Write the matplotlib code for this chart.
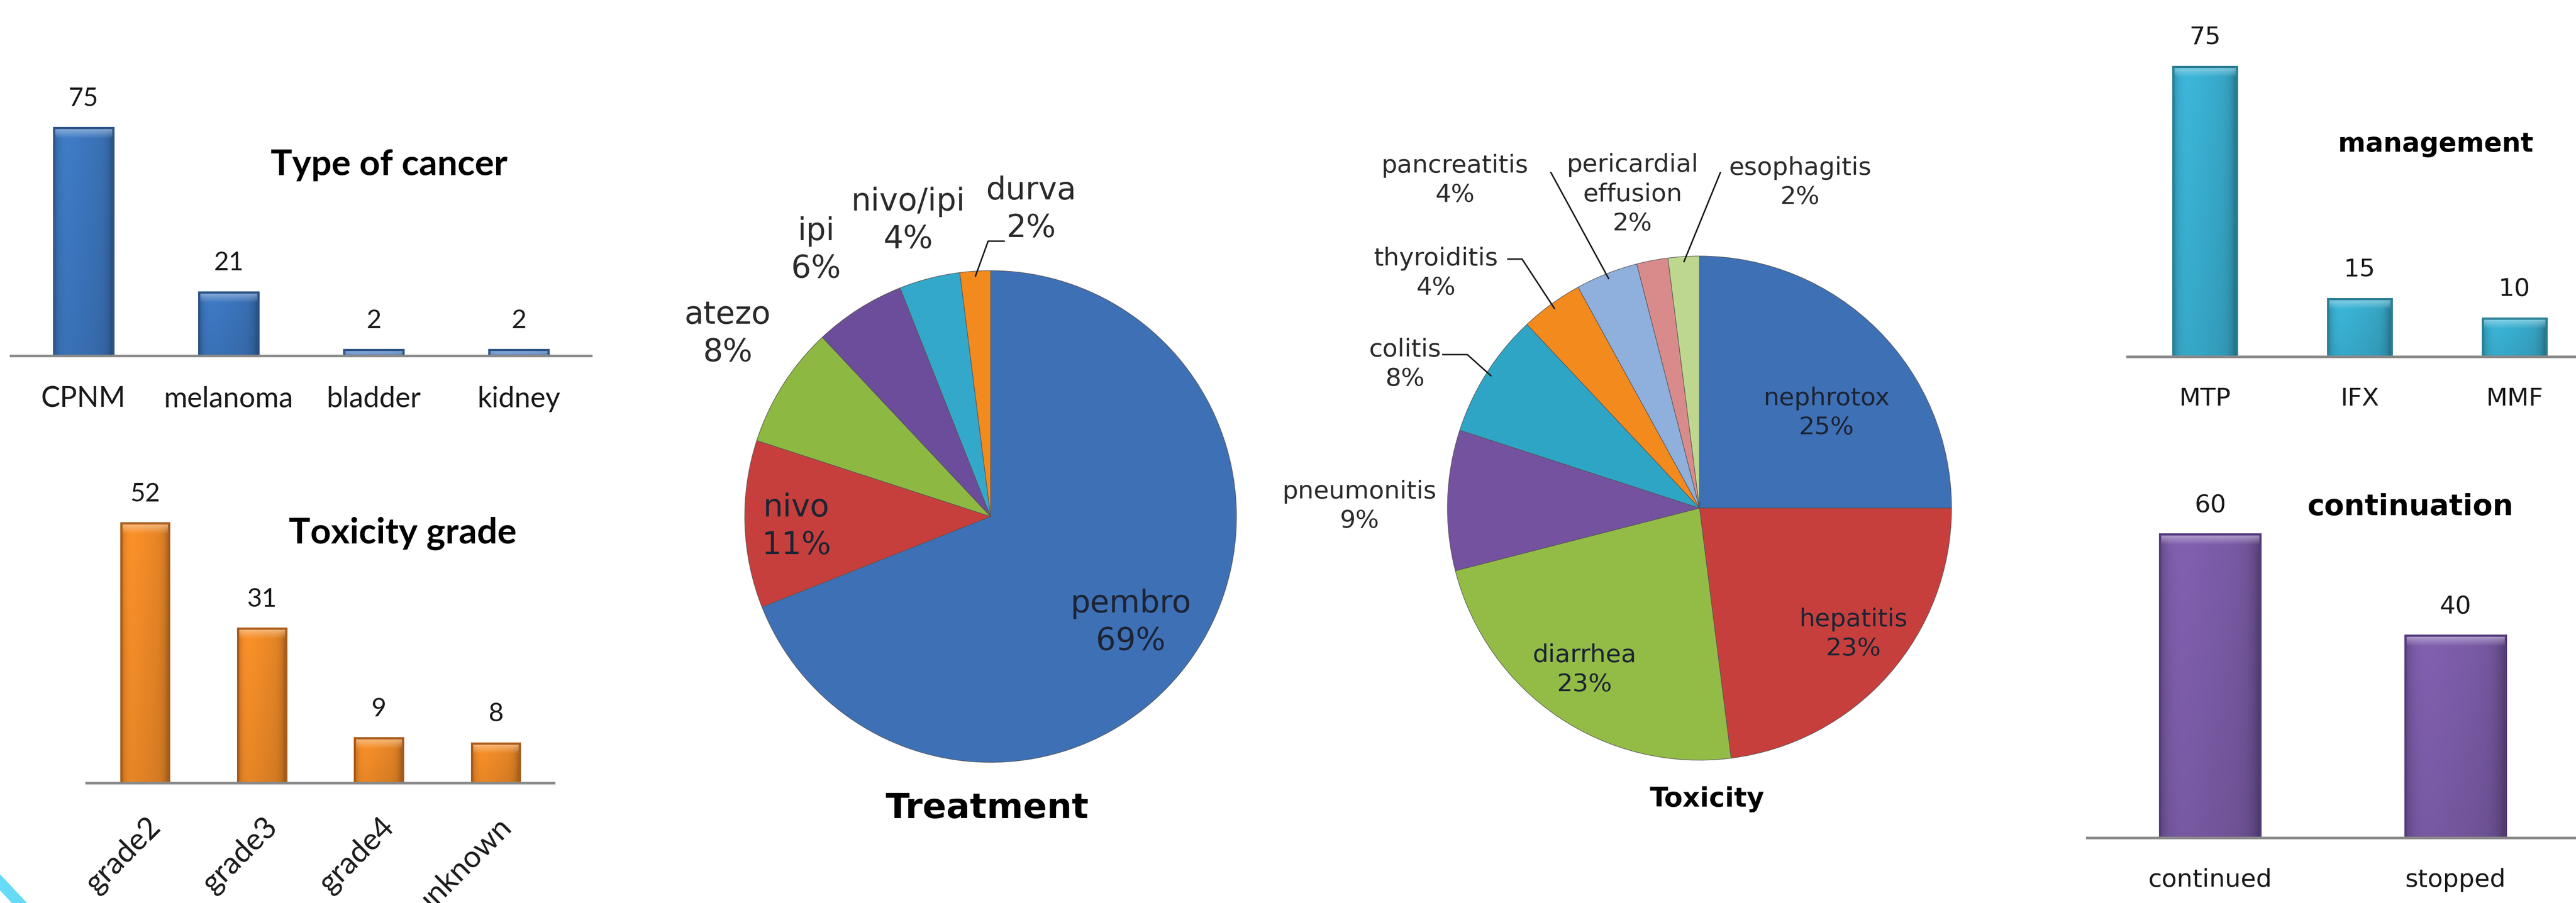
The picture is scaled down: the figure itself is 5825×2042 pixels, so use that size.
import matplotlib.pyplot as plt
import numpy as np
from matplotlib.colors import to_rgb
from matplotlib.lines import Line2D

W, H = 5825, 2043
DPI = 300

# data
cancer_types = ["CPNM", "melanoma", "bladder", "kidney"]
cancer_counts = [75, 21, 2, 2]

grades = ["grade2", "grade3", "grade4", "unknown"]
grade_counts = [52, 31, 9, 8]

treatments = ["pembro", "nivo", "atezo", "ipi", "nivo/ipi", "durva"]
treatment_pct = [69, 11, 8, 6, 4, 2]

toxicities = ["nephrotox", "hepatitis", "diarrhea", "pneumonitis", "colitis",
              "thyroiditis", "pancreatitis", "pericardial\neffusion", "esophagitis"]
toxicity_pct = [25, 23, 23, 9, 8, 4, 4, 2, 2]

managements = ["MTP", "IFX", "MMF"]
management_counts = [75, 15, 10]

continuations = ["continued", "stopped"]
continuation_counts = [60, 40]

# colours
treat_colors = ["#3E70B6", "#C73F3C", "#8DB841", "#6C4D9B", "#34A8CB", "#F28A1E"]
tox_colors = ["#3E70B6", "#C73F3C", "#93BC47", "#7452A0", "#2FA5C6",
              "#F28A1E", "#8FAFDC", "#D98B8B", "#BDD88E"]

# label positions in pie radius units (relative to centre)
treat_label_pos = [(0.57, -0.43), (-0.79, -0.04), (-1.07, 0.745),
                   (-0.71, 1.085), (-0.335, 1.205), (0.165, 1.25)]
tox_label_pos = [(0.505, 0.379), (0.611, -0.498), (-0.456, -0.640),
                 (-1.349, 0.009), (-1.168, 0.572), (-1.046, 0.933),
                 (-0.970, 1.302), (-0.265, 1.246), (0.400, 1.293)]
# leader lines: slice index -> (start, elbow)
treat_leaders = {5: [(0.055, 1.12), (-0.01, 1.12)]}
tox_leaders = {4: [(-1.018, 0.609), (-0.921, 0.609)],
               5: [(-0.760, 0.988), (-0.704, 0.988)],
               6: [(-0.656, 1.347), (-0.598, 1.347)],
               8: [(0.125, 1.339), (0.086, 1.339)]}

fig = plt.figure(figsize=(W / DPI, H / DPI), dpi=DPI)
fig.patch.set_facecolor("white")


def px_axes(x0, x1, y_top, y_bottom):
    return fig.add_axes([x0 / W, 1 - y_bottom / H, (x1 - x0) / W, (y_bottom - y_top) / H])


def fig_text(x, y, s, **kw):
    fig.text(x / W, 1 - y / H, s, ha="center", va="center", **kw)


def shade_bars(ax, bars, color, band):
    # fake the bevelled office look: dark sides, light band on top
    base = np.array(to_rgb(color))
    light = base * 0.45 + 0.55
    u = np.linspace(-1, 1, 80)
    side = 1 - 0.28 * np.abs(u) ** 6 - 0.08 * u
    for rect in bars:
        x, w, h = rect.get_x(), rect.get_width(), rect.get_height()
        rows = 300
        yy = (np.arange(rows) + 0.5) / rows * h
        t = np.clip(1 - (h - yy) / band, 0, 1)[:, None, None]
        img = base[None, None, :] * (0.92 + 0.08 * yy / h)[:, None, None] * side[None, :, None]
        img = img * (1 - t * 0.8) + light[None, None, :] * t * 0.8
        im = ax.imshow(np.clip(img, 0, 1), extent=(x, x + w, 0, h), origin="lower",
                       aspect="auto", zorder=2, interpolation="bilinear")
        im.set_clip_path(rect)
        rect.set_facecolor("none")
        rect.set_zorder(3)


def bar_panel(x0, x1, base, top, per_unit, cats, vals, color, edge, family, size,
              val_size, rotate=False):
    ax = px_axes(x0, x1, top, base)
    idx = np.arange(len(cats))
    bars = ax.bar(idx, vals, width=0.41, color=color, edgecolor=edge, linewidth=1.2)
    shade_bars(ax, bars, color, 24 / per_unit)
    ax.set_xlim(-0.5, len(cats) - 0.5)
    ax.set_ylim(0, (base - top) / per_unit)
    for sp in ["top", "right", "left"]:
        ax.spines[sp].set_visible(False)
    ax.spines["bottom"].set_color("#8a8a8a")
    ax.spines["bottom"].set_linewidth(1.4)
    ax.spines["bottom"].set_zorder(4)
    ax.set_yticks([])
    ax.set_facecolor("none")
    for i, v in zip(idx, vals):
        ax.annotate(str(v), (i, v), xytext=(0, 16), textcoords="offset points",
                    ha="center", va="center", fontsize=val_size, family=family, color="#1a1a1a")
    if rotate:
        ax.set_xticks([])
        for i, c in zip(idx, cats):
            ax.annotate(c, (i, 0), xytext=(0.5, -15.5), textcoords="offset points",
                        rotation=45, ha="right", va="top", rotation_mode="anchor",
                        fontsize=size, family=family, color="#1a1a1a")
    else:
        ax.set_xticks(idx, cats, fontsize=size, family=family, color="#1a1a1a")
        ax.tick_params(axis="x", length=0, pad=16)
    return ax


def pie_panel(cx, cy, r, vals, colors, names, label_pos, leaders, size, inside):
    s = 760
    ax = px_axes(cx - s, cx + s, cy - s, cy + s)
    ax.pie(vals, colors=colors, startangle=90, counterclock=False, radius=1,
           wedgeprops=dict(edgecolor="#555555", linewidth=0.3))
    ax.set_xlim(-s / r, s / r)
    ax.set_ylim(-s / r, s / r)
    ax.axis("off")
    total = float(sum(vals))
    cum = np.cumsum([0] + list(vals))
    for i, (name, v, (lx, ly)) in enumerate(zip(names, vals, label_pos)):
        col = "#1c2433" if i in inside else "#2b2b2b"
        ax.text(lx, ly, f"{name}\n{v}%", ha="center", va="center", fontsize=size,
                family="DejaVu Sans", color=col, linespacing=1.3)
    for i, (p0, p1) in leaders.items():
        ang = np.deg2rad(90 - 360 * (cum[i] + vals[i] / 2) / total)
        end = (0.98 * np.cos(ang), 0.98 * np.sin(ang))
        ax.plot([p0[0], p1[0], end[0]], [p0[1], p1[1], end[1]], color="#1a1a1a", lw=0.8)
    return ax


left_font = ["Lato", "DejaVu Sans"]
bar_panel(25, 1337, 806, 100, 6.88, cancer_types, cancer_counts,
          "#3D77C0", "#2C5488", left_font, 15.5, 14)
fig_text(880, 373, "Type of cancer", fontsize=19.5, fontweight="bold", family=left_font)

bar_panel(196, 1253, 1772, 1050, 11.3, grades, grade_counts,
          "#F28C28", "#A95C1A", left_font, 16.5, 14, rotate=True)
fig_text(911, 1206, "Toxicity grade", fontsize=19.5, fontweight="bold", family=left_font)

pie_panel(2240, 1169, 556, treatment_pct, treat_colors, treatments,
          treat_label_pos, treat_leaders, 17, inside=(0, 1))
fig_text(2232, 1828, "Treatment", fontsize=19, fontweight="bold", family="DejaVu Sans")

pie_panel(3843, 1150, 570, toxicity_pct, tox_colors, toxicities,
          tox_label_pos, tox_leaders, 13.5, inside=(0, 1, 2))
fig_text(3860, 1808, "Toxicity", fontsize=14.5, fontweight="bold", family="DejaVu Sans")

bar_panel(4811, 5861, 808, 40, 8.75, managements, management_counts,
          "#3AB0D2", "#2A7F97", "DejaVu Sans", 13.5, 13.5)
fig_text(5508, 326, "management", fontsize=14.3, fontweight="bold", family="DejaVu Sans")

bar_panel(4720, 5830, 1896, 1050, 11.45, continuations, continuation_counts,
          "#7D5DAA", "#553C7E", "DejaVu Sans", 13.5, 13.5)
fig_text(5450, 1147, "continuation", fontsize=15.7, fontweight="bold", family="DejaVu Sans")

# slide decoration in the bottom-left corner
fig.add_artist(Line2D(np.array([-20, 60]) / W, 1 - np.array([1975, 2060]) / H,
                      transform=fig.transFigure, color="#66DBF7", lw=6))

fig.savefig("out.png", dpi=DPI, facecolor="white")
